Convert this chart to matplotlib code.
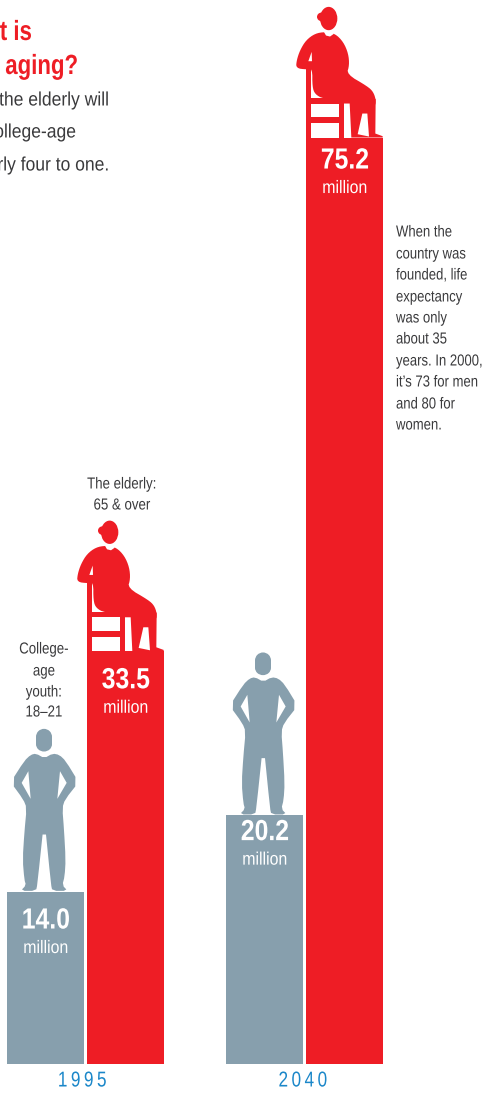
import matplotlib
matplotlib.use('Agg')
import matplotlib.pyplot as plt
from matplotlib.patches import Polygon, Ellipse, Rectangle
from matplotlib.patheffects import AbstractPathEffect
from matplotlib.transforms import Affine2D

plt.rcParams['font.family'] = ['Liberation Sans', 'DejaVu Sans']

# Data, millions of people
years = ['1995', '2040']
youth = [14.0, 20.2]
elderly = [33.5, 75.2]

RED = '#EE1D25'
GRAY = '#879FAD'
BLUE = '#1B87C9'
TEXT = '#3A3A3C'

W, H = 485, 1094
PX_PER_UNIT = 12.32
BASE = 1064

fig = plt.figure(figsize=(W / 100, H / 100), dpi=100)
ax = fig.add_axes([0, 0, 1, 1])
ax.set_xlim(0, W)
ax.set_ylim(-(H - BASE) / PX_PER_UNIT, BASE / PX_PER_UNIT)
ax.axis('off')


class Condense(AbstractPathEffect):
    # no narrow font installed, so squeeze the glyphs sideways around the text's anchor
    def __init__(self, sx, ha):
        super().__init__()
        self.sx = sx
        self.ha = ha

    def draw_path(self, renderer, gc, tpath, affine, rgbFace=None):
        w = tpath.get_extents().x1
        anchor = {'left': 0, 'center': w / 2, 'right': w}[self.ha]
        squeeze = Affine2D().translate(-anchor, 0).scale(self.sx, 1).translate(anchor, 0)
        renderer.draw_path(gc, tpath, squeeze + affine, rgbFace)


def label(x, y, s, sx=0.85, ha='center', **kw):
    t = fig.text(x / W, 1 - y / H, s, ha=ha, va='center', **kw)
    t.set_path_effects([Condense(sx, ha)])


def smooth(pts, n=2):
    # corner cutting, the silhouettes have no hard corners
    for _ in range(n):
        out = []
        for i, (x0, y0) in enumerate(pts):
            x1, y1 = pts[(i + 1) % len(pts)]
            out.append((0.75 * x0 + 0.25 * x1, 0.75 * y0 + 0.25 * y1))
            out.append((0.25 * x0 + 0.75 * x1, 0.25 * y0 + 0.75 * y1))
        pts = out
    return pts


def shape_tf(left, value, ox, oy):
    # silhouettes are traced in 3x crop pixels, anchored on the bar's top left corner
    return (Affine2D().translate(-ox, -oy).scale(1 / 3, -1 / 3 / PX_PER_UNIT)
            .translate(left, value) + ax.transData)


def draw_seated(left, value):
    tf = shape_tf(left, value, 78, 412)
    torso = [(135, 95), (105, 100), (78, 120), (60, 150), (50, 180), (48, 204), (80, 208),
             (97, 205), (97, 260), (105, 282), (130, 296), (200, 300), (285, 320), (288, 300),
             (280, 275), (262, 258), (200, 222), (208, 195), (205, 160), (190, 125), (165, 100)]
    ax.add_patch(Polygon(smooth(torso), fc=RED, ec='none', transform=tf))
    leg = [(212, 296), (287, 296), (286, 400), (308, 408), (308, 412), (214, 412), (209, 310),
           (192, 310), (192, 296)]
    ax.add_patch(Polygon(leg, fc=RED, ec='none', transform=tf))
    chair = [(78, 203), (93, 203), (93, 293), (192, 293), (192, 412), (177, 412), (177, 368),
             (93, 368), (93, 412), (78, 412)]
    ax.add_patch(Polygon(chair, fc=RED, ec='none', transform=tf))
    ax.add_patch(Ellipse((146, 55), 52, 70, fc=RED, ec='none', transform=tf))
    ax.add_patch(Ellipse((125, 50), 28, 26, fc=RED, ec='none', transform=tf))
    whites = [
        [(130, 92), (165, 92), (160, 102), (150, 109), (138, 106)],
        [(85, 183), (95, 155), (96, 183)],
        [(94, 310), (177, 310), (177, 350), (94, 350)],
        [(247, 340), (262, 340), (267, 409), (233, 402)],
    ]
    for pts in whites:
        ax.add_patch(Polygon(pts, fc='white', ec='none', transform=tf))


def draw_standing(left, value):
    tf = shape_tf(left, value, 21, 516)
    body = [(108, 102), (92, 106), (73, 124), (32, 188), (70, 240), (80, 265), (73, 340),
            (68, 420), (73, 480), (78, 497), (62, 514), (108, 514), (112, 495), (133, 295),
            (153, 495), (157, 514), (203, 514), (187, 497), (194, 470), (197, 420), (192, 330),
            (187, 265), (195, 240), (236, 188), (197, 124), (178, 106), (158, 102), (133, 116)]
    ax.add_patch(Polygon(smooth(body, 1), fc=GRAY, ec='none', transform=tf))
    ax.add_patch(Rectangle((108, 52), 48, 22, fc=GRAY, ec='none', transform=tf))
    ax.add_patch(Ellipse((132, 52), 48, 48, fc=GRAY, ec='none', transform=tf))
    ax.add_patch(Ellipse((132, 74), 48, 44, fc=GRAY, ec='none', transform=tf))
    for pts in ([(85, 155), (65, 190), (92, 238)], [(180, 155), (200, 190), (172, 238)]):
        ax.add_patch(Polygon(pts, fc='white', ec='none', transform=tf))


# Bars, drawn from the data
youth_left = [7, 226]
elderly_left = [87, 306]
bar_w = 77
ax.bar(youth_left, youth, width=bar_w, align='edge', color=GRAY)
ax.bar(elderly_left, elderly, width=bar_w, align='edge', color=RED)

for left, v in zip(youth_left, youth):
    draw_standing(left, v)
for left, v in zip(elderly_left, elderly):
    draw_seated(left, v)

# Value labels inside the bars
for left, v, off in zip(youth_left + elderly_left, youth + elderly, [29, 17, 29, 23]):
    top = BASE - v * PX_PER_UNIT
    label(left + 39, top + off, f'{v:.1f}', sx=0.85, color='white', fontsize=21, fontweight='bold')
    label(left + 39, top + off + 28, 'million', sx=0.88, color='white', fontsize=13)

# Year labels
for x, year in zip([82, 303], years):
    label(x, 1081, '\u2009'.join(year), sx=0.8, color=BLUE, fontsize=15.5)

# Header, only what shows inside the picture
label(32, 33, 't is', sx=0.8, ha='right', color=RED, fontsize=20, fontweight='bold')
label(78, 67, 'aging?', sx=0.8, ha='right', color=RED, fontsize=20, fontweight='bold')
label(110, 101, 'the elderly will', sx=0.9, ha='right', color=TEXT, fontsize=14)
label(77, 133, 'ollege-age', sx=0.9, ha='right', color=TEXT, fontsize=14)
label(110, 166, 'rly four to one.', sx=0.9, ha='right', color=TEXT, fontsize=14)

# Callouts
for y, s in zip([484, 505], ['The elderly:', '65 & over']):
    label(122, y, s, sx=0.83, color=TEXT, fontsize=11.5)
for y, s in zip([649, 671, 692, 712], ['College-', 'age', 'youth:', '18\u201321']):
    label(44, y, s, sx=0.83, color=TEXT, fontsize=11.5)
note = ['When the', 'country was', 'founded, life', 'expectancy', 'was only', 'about 35',
        'years. In 2000,', 'it\u2019s 73 for men', 'and 80 for', 'women.']
for y, s in zip([232, 254, 275, 297, 318, 339, 361, 382, 404, 425], note):
    label(396, y, s, sx=0.82, ha='left', color=TEXT, fontsize=11.5)

fig.savefig('out.png', dpi=100, facecolor='white')
